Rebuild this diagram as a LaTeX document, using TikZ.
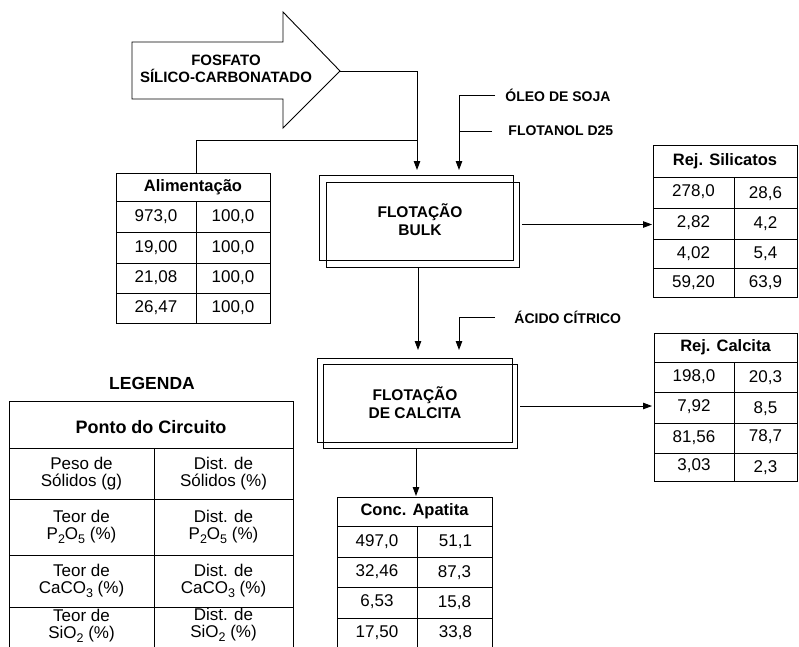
\documentclass[tikz,border=0pt]{standalone}
\usepackage{fontspec}
\setmainfont{Liberation Sans}
\usetikzlibrary{arrows.meta}
\newcommand\sbs[1]{\raisebox{-4pt}{\fontsize{12.5}{12.5}\selectfont #1}}
\begin{document}
\begin{tikzpicture}[x=1pt,y=-1pt,line width=0.9pt,
  arr/.style={-{Triangle[length=9pt,width=6.5pt]}},
  hd/.style={font=\fontsize{16.5}{18}\selectfont\bfseries,inner sep=0},
  dt/.style={font=\fontsize{17}{18}\selectfont,inner sep=0},
  lbl/.style={font=\fontsize{14}{16}\selectfont\bfseries,anchor=west,inner sep=0},
  boxt/.style={font=\fontsize{15.5}{18}\selectfont\bfseries,align=center,inner sep=0},
  lg/.style={font=\fontsize{17}{17}\selectfont,align=center,inner sep=0},
  tab/.style={draw,anchor=north west,inner sep=0,outer sep=0},
  proc/.style={draw,inner sep=0,outer sep=0}]
\useasboundingbox (0,0) rectangle (799,646);
\clip (0,0) rectangle (799,646);

% big feed arrow
\draw (132,42) -- (283,42) -- (283,12) -- (340,71) -- (283,128) -- (283,99) -- (132,99) -- cycle;
\coordinate (tip) at (340,71);
\node[font=\fontsize{15}{17}\selectfont\bfseries,align=center,inner sep=0] (feed) at (226,68.5) {FOSFATO\\SÍLICO-CARBONATADO};

% process boxes
\node[proc,minimum width=194pt,minimum height=85pt] (bulkA) at (416,217.5) {};
\node[proc,minimum width=193pt,minimum height=85pt] (bulkB) at (422.5,224.5) {};
\node[boxt] (bulkT) at (420,220) {FLOTAÇÃO\\BULK};

\node[proc,minimum width=195pt,minimum height=84pt] (calA) at (414.5,400) {};
\node[proc,minimum width=194pt,minimum height=84pt] (calB) at (420,406) {};
\node[boxt] (calT) at (415,402.5) {FLOTAÇÃO\\DE CALCITA};

% reagent labels
\node[lbl] (oleo) at (505,95) {ÓLEO DE SOJA};
\node[lbl] (flot) at (508,131) {FLOTANOL D25};
\node[lbl] (acido) at (514,317) {ÁCIDO CÍTRICO};

% tables
\node[tab,minimum width=154pt,minimum height=150pt] (ali) at (116,173) {};
\draw (116,201) -- (270,201) (116,232) -- (270,232) (116,263) -- (270,263) (116,293) -- (270,293) (196,201) -- (196,323);
\node[hd] (aliH) at (193,187) {Alimentação};
\node[dt] (ali11) at (156,216.5) {973,0};
\node[dt] (ali12) at (233,216.5) {100,0};
\node[dt] (ali21) at (156,247.5) {19,00};
\node[dt] (ali22) at (233,247.5) {100,0};
\node[dt] (ali31) at (156,278) {21,08};
\node[dt] (ali32) at (233,278) {100,0};
\node[dt] (ali41) at (156,308) {26,47};
\node[dt] (ali42) at (233,308) {100,0};

\node[tab,minimum width=144pt,minimum height=152pt] (sil) at (653,145) {};
\draw (653,177) -- (797,177) (653,208) -- (797,208) (653,239) -- (797,239) (653,268) -- (797,268) (734,177) -- (734,297);
\node[hd] (silH) at (725,161) {Rej. Silicatos};
\node[dt] (sil11) at (693.5,191.5) {278,0};
\node[dt] (sil12) at (765.5,194) {28,6};
\node[dt] (sil21) at (693.5,222.5) {2,82};
\node[dt] (sil22) at (765.5,224) {4,2};
\node[dt] (sil31) at (693.5,253.5) {4,02};
\node[dt] (sil32) at (765.5,253.5) {5,4};
\node[dt] (sil41) at (693.5,282.5) {59,20};
\node[dt] (sil42) at (765.5,282.5) {63,9};

\node[tab,minimum width=143pt,minimum height=148pt] (rcal) at (654,333) {};
\draw (654,362) -- (797,362) (654,392) -- (797,392) (654,423) -- (797,423) (654,453) -- (797,453) (734,362) -- (734,481);
\node[hd] (rcalH) at (725.5,347.5) {Rej. Calcita};
\node[dt] (rcal11) at (694,377) {198,0};
\node[dt] (rcal12) at (765.5,378) {20,3};
\node[dt] (rcal21) at (694,406.5) {7,92};
\node[dt] (rcal22) at (765.5,408.5) {8,5};
\node[dt] (rcal31) at (694,438) {81,56};
\node[dt] (rcal32) at (765.5,436.5) {78,7};
\node[dt] (rcal41) at (694,466) {3,03};
\node[dt] (rcal42) at (765.5,467.5) {2,3};

\node[tab,minimum width=155pt,minimum height=152pt] (apa) at (337,497) {};
\draw (337,526) -- (492,526) (337,557) -- (492,557) (337,587) -- (492,587) (337,618) -- (492,618) (417,526) -- (417,649);
\node[hd] (apaH) at (414.5,511.5) {Conc. Apatita};
\node[dt] (apa11) at (377,541.5) {497,0};
\node[dt] (apa12) at (455.5,541.5) {51,1};
\node[dt] (apa21) at (377,571.5) {32,46};
\node[dt] (apa22) at (454.5,572.5) {87,3};
\node[dt] (apa31) at (377,602) {6,53};
\node[dt] (apa32) at (454.5,603) {15,8};
\node[dt] (apa41) at (377,633) {17,50};
\node[dt] (apa42) at (455.5,633) {33,8};

% legend
\node[font=\fontsize{17.5}{18}\selectfont\bfseries,inner sep=0] (legT) at (152,383) {LEGENDA};
\node[tab,minimum width=284pt,minimum height=260pt] (leg) at (9,401) {};
\draw (9,448) -- (293,448) (9,499) -- (293,499) (9,555) -- (293,555) (9,607) -- (293,607) (154,448) -- (154,661);
\node[font=\fontsize{18}{18}\selectfont\bfseries,inner sep=0] (legH) at (151,427) {Ponto do Circuito};
\node[lg] (lg11) at (81.5,473.5) {Peso de\\Sólidos (g)};
\node[lg] (lg12) at (223.5,473.5) {Dist. de\\Sólidos (\%)};
\node[lg] (lg21) at (81.5,527) {Teor de\\P\sbs{2}O\sbs{5} (\%)};
\node[lg] (lg22) at (223.5,527) {Dist. de\\P\sbs{2}O\sbs{5} (\%)};
\node[lg] (lg31) at (81.5,581) {Teor de\\CaCO\sbs{3} (\%)};
\node[lg] (lg32) at (223.5,581) {Dist. de\\CaCO\sbs{3} (\%)};
\node[lg] (lg41) at (81.5,626) {Teor de\\SiO\sbs{2} (\%)};
\node[lg] (lg42) at (223.5,624.5) {Dist. de\\SiO\sbs{2} (\%)};

% connectors
\coordinate (join) at (417,140);
\coordinate (bin1) at (417,170);
\coordinate (bin2) at (459,170);
\coordinate (cin1) at (418,350);
\coordinate (cin2) at (459,350);
\draw[arr] (tip) -| (bin1);
\draw ([xshift=3pt]ali.north) |- (join);
\draw[arr] ([xshift=-10pt]oleo.west) -| (bin2);
\draw ([xshift=-16pt]flot.west) -- (flot.west -| bin2);
\draw[arr] (bulkB.south -| cin1) -- (cin1);
\draw[arr] ([xshift=-19pt]acido.west) -| (cin2);
\draw[arr] ([xshift=3pt]bulkB.east) -- ([xshift=-1pt]bulkB.east -| sil.west);
\draw[arr] ([xshift=3pt]calB.east) -- ([xshift=-2pt]calB.east -| rcal.west);
\draw[arr] (calB.south -| 416,0) -- ([yshift=1pt]apa.north -| 416,0);
\end{tikzpicture}
\end{document}
